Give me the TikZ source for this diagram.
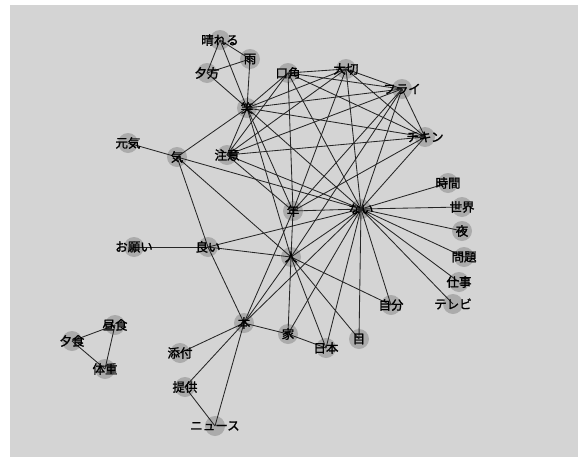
\documentclass[tikz,border=0pt]{standalone}
\usepackage{fontspec}
\newfontfamily\jp[FakeBold=1.4]{Noto Sans CJK JP}
\definecolor{bg}{HTML}{D4D4D4}
\definecolor{nodefill}{HTML}{ABABAB}
\definecolor{edgecol}{HTML}{262626}
\begin{document}
\begin{tikzpicture}[x=1pt,y=-1pt,
  vert/.style={circle,fill=nodefill,minimum size=20pt,inner sep=0pt},
  lab/.style={font=\jp\fontsize{12.5}{13}\selectfont,text=black,inner sep=0pt},
  edge/.style={draw=edgecol,line width=0.85pt}]
\useasboundingbox (0,0) rectangle (587,461);
\fill[white] (0,0) rectangle (587,461);
\fill[bg] (10,5) rectangle (578,457);
% vertices
\foreach \n/\x/\y in {hareru/220/40,ame/250/59,yugata/207/73,kouka/288/73,taisetsu/346/69,furai/402/89,warai/247/108,chikin/425/137,genki/128/143,ki/177/157,chui/227/155,jikan/448/183,toshi/293/211,nai/361/209,sekai/462/207,yoru/462/231,onegai/134/247,yoi/208/247,hito/291/257,mondai/464/257,shigoto/459/282,jibun/391/305,terebi/453/304,hon/244/323,ie/288/334,nihon/326/348,me/359/339,chushoku/115/325,yushoku/72/341,taiju/105/369,tenpu/180/353,teikyo/185/387,news/215/426}
  \node[vert] (\n) at (\x,\y) {};
% edges
\foreach \a/\b in {hareru/ame,hareru/yugata,hareru/warai,ame/yugata,ame/warai,yugata/warai,
  warai/kouka,warai/taisetsu,warai/furai,warai/chikin,warai/chui,
  kouka/taisetsu,kouka/furai,kouka/chikin,kouka/chui,
  taisetsu/furai,taisetsu/chikin,taisetsu/chui,
  furai/chikin,furai/chui,chikin/chui,
  toshi/kouka,toshi/taisetsu,toshi/furai,toshi/chikin,toshi/warai,toshi/chui,toshi/nai,toshi/hito,toshi/hon,
  nai/warai,nai/kouka,nai/taisetsu,nai/furai,nai/chikin,nai/chui,nai/ki,nai/yoi,nai/hito,nai/hon,nai/ie,nai/nihon,nai/me,nai/jibun,nai/jikan,nai/sekai,nai/yoru,nai/mondai,nai/shigoto,nai/terebi,
  ki/genki,ki/warai,ki/yoi,ki/hito,
  yoi/onegai,yoi/hito,yoi/hon,
  hito/warai,hito/furai,hito/jibun,hito/me,hito/nihon,hito/ie,hito/hon,
  hon/ie,hon/tenpu,hon/teikyo,hon/news,ie/nihon,teikyo/news,
  chushoku/yushoku,chushoku/taiju,yushoku/taiju}
  \draw[edge] (\a.center) -- (\b.center);
% labels
\foreach \n/\t in {hareru/晴れる,ame/雨,yugata/夕方,kouka/口角,taisetsu/大切,furai/フライ,warai/笑,chikin/チキン,genki/元気,ki/気,chui/注意,jikan/時間,toshi/年,nai/ない,sekai/世界,yoru/夜,onegai/お願い,yoi/良い,hito/人,mondai/問題,shigoto/仕事,jibun/自分,terebi/テレビ,hon/本,ie/家,nihon/日本,me/目,chushoku/昼食,yushoku/夕食,taiju/体重,tenpu/添付,teikyo/提供,news/ニュース}
  \node[lab] (\n-l) at (\n) {\t};
\end{tikzpicture}
\end{document}
